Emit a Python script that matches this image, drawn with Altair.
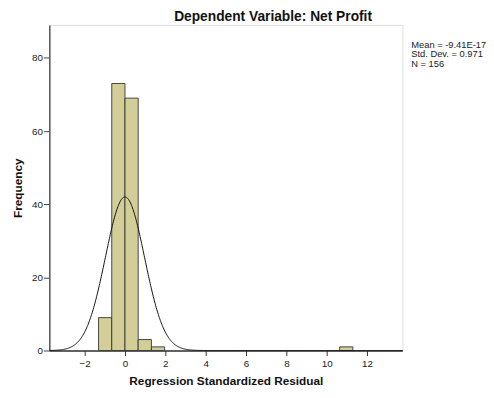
import altair as alt
import pandas as pd

# Histogram data (bin start, bin end, frequency)
bin_start = [-1.31, -0.655, 0.0, 0.655, 1.31, 10.64]
bin_end = [-0.655, 0.0, 0.655, 1.31, 1.965, 11.295]
counts = [9, 73, 69, 3, 1, 1]

# Stated statistics
mean_val = -9.41e-17
sd_val = 0.971
n_val = 156
bin_width = 0.655

stats_lines = ["Mean = -9.41E-17", "Std. Dev. = 0.971", "N = 156"]

x_ticks = [-2, 0, 2, 4, 6, 8, 10, 12]
y_ticks = [0, 20, 40, 60, 80]

hist_df = pd.DataFrame({"start": bin_start, "end": bin_end, "count": counts})

FONT = "Liberation Sans"
xscale = alt.Scale(domain=[-3.75, 13.75], nice=False, zero=False)
yscale = alt.Scale(domain=[0, 89], nice=False)

x_axis = alt.Axis(values=x_ticks, title="Regression Standardized Residual",
                  grid=False, tickSize=5, tickColor="#333", domainColor="#333",
                  domainWidth=1.5, labelFont=FONT, labelFontSize=10, labelColor="#222",
                  titleFont=FONT, titleFontSize=12, titleFontWeight="bold", titleColor="#111",
                  labelPadding=3, titlePadding=8)
y_axis = alt.Axis(values=y_ticks, title="Frequency", grid=False, tickSize=6,
                  tickColor="#444", domainColor="#555", domainWidth=1.5,
                  labelFont=FONT, labelFontSize=10, labelColor="#222",
                  titleFont=FONT, titleFontSize=12, titleFontWeight="bold", titleColor="#111",
                  labelPadding=1, titlePadding=7)

bars = alt.Chart(hist_df).mark_bar(fill="#d3ce97", stroke="#333333", strokeWidth=1,
                                   strokeOpacity=0.9).encode(
    x=alt.X("start:Q", scale=xscale, axis=x_axis),
    x2="end:Q",
    y=alt.Y("count:Q", scale=yscale, axis=y_axis),
    y2=alt.datum(0),
)

curve = alt.Chart(alt.sequence(-3.75, 13.76, 0.025, as_="x")).transform_calculate(
    y=f"{n_val}*{bin_width}/({sd_val}*sqrt(2*PI))*exp(-0.5*pow((datum.x-({mean_val}))/{sd_val},2))"
).mark_line(color="#111111", strokeWidth=1).encode(
    x=alt.X("x:Q", scale=xscale),
    y=alt.Y("y:Q", scale=yscale),
)

stats = alt.Chart(pd.DataFrame({"k": [0]})).mark_text(
    align="left", baseline="top", font=FONT, fontSize=9.5, color="#222", lineHeight=10
).encode(
    x=alt.value(368),
    y=alt.value(15),
    text=alt.value(stats_lines),
)

chart = alt.layer(bars, curve, stats).properties(
    width=359, height=331,
    autosize=alt.AutoSizeParams(type="none"),
    padding={"left": 42, "top": 14, "right": 85, "bottom": 45},
    title=alt.Title("Dependent Variable: Net Profit", font=FONT, fontSize=14,
                    fontWeight="bold", color="#111", anchor="middle", dx=48, offset=1),
).configure_view(fill="#f0f0f0", stroke="#555555", strokeWidth=1.5).configure(
    background="white")

chart.save("out.html", embed_options={"renderer": "svg", "actions": False})
